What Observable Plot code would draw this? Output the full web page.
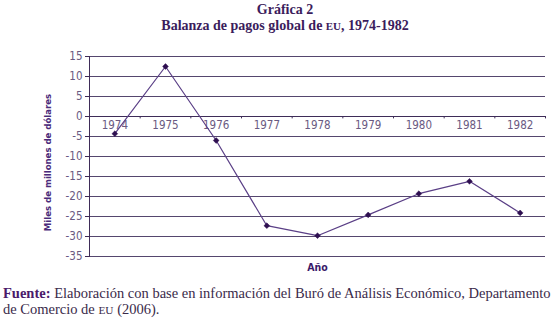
<!DOCTYPE html>
<html>
<head>
<meta charset="utf-8">
<script src="https://cdn.jsdelivr.net/npm/d3@7"></script>
<script src="https://cdn.jsdelivr.net/npm/@observablehq/plot@0.6"></script>
<style>
  html, body { margin: 0; padding: 0; background: #fff; }
  body { width: 557px; height: 318px; overflow: hidden; position: relative; }
  #title { position: absolute; left: 0; top: 2px; width: 570px; text-align: center;
    font-family: "Liberation Serif", "Times New Roman", serif; font-weight: bold;
    font-size: 14px; line-height: 15.5px; color: #3b1c5c; }
  #chart { position: absolute; left: 0; top: 40px; }
  #foot { position: absolute; left: 3px; top: 285px; width: 554px;
    font-family: "Liberation Serif", "Times New Roman", serif; font-size: 14.5px;
    line-height: 16px; color: #3a2a4a; }
  #foot b { color: #4a1a6a; }
  .sc { font-size: 0.78em; }
</style>
</head>
<body>
<div id="title">Gráfica 2<br>Balanza de pagos global de <span class="sc">EU</span>, 1974-1982</div>
<div id="chart"></div>
<div id="foot"><b>Fuente:</b> Elaboración con base en información del Buró de Análisis Económico, Departamento<br>de Comercio de <span class="sc">EU</span> (2006).</div>
<script>
const years = [1974, 1975, 1976, 1977, 1978, 1979, 1980, 1981, 1982];
const balance = [-4.3, 12.5, -6.0, -27.3, -29.8, -24.6, -19.3, -16.2, -24.1];
const yTicks = [15, 10, 5, 0, -5, -10, -15, -20, -25, -30, -35];
const yLabel = "Miles de millones de dólares";
const xLabel = "Año";

const data = years.map((y, i) => ({year: y, value: balance[i]}));
const bounds = years.map(y => y - 0.5).concat([years[years.length - 1] + 0.5]);

const narrow = "'Liberation Sans Narrow', 'DejaVu Sans Condensed', sans-serif";

const chart = Plot.plot({
  width: 557,
  height: 240,
  marginLeft: 89,
  marginRight: 12,
  marginTop: 16,
  marginBottom: 24,
  style: {fontFamily: narrow, background: "transparent"},
  x: {type: "linear", domain: [bounds[0], bounds[bounds.length - 1]], axis: null},
  y: {domain: [-35, 15], axis: null},
  marks: [
    Plot.ruleY(yTicks, {stroke: "#55466e", strokeWidth: 1}),
    Plot.ruleY([0], {stroke: "#3e2c58", strokeWidth: 1}),
    Plot.frame({anchor: "left", stroke: "#3e2c58"}),
    Plot.ruleX(bounds, {x: d => d, y1: 0, y2: -0.6, stroke: "#3e2c58"}),
    Plot.axisY({ticks: yTicks, tickSize: 4, tickPadding: 3, fontSize: 11.5,
      color: "#6a5a82", stroke: "#3e2c58", label: null, tickFormat: d => d}),
    Plot.text(years, {x: d => d, y: 0, text: d => String(d), lineAnchor: "top", dy: 4,
      fontSize: 11.5, fill: "#6a5a82"}),
    Plot.line(data, {x: "year", y: "value", stroke: "#5a3f86", strokeWidth: 1.2}),
    Plot.dot(data, {x: "year", y: "value", symbol: "diamond2", r: 2.6, fill: "#2e0f50", stroke: "#2e0f50", strokeWidth: 0.5}),
    Plot.text([yLabel], {frameAnchor: "left", textAnchor: "middle", rotate: -90, dx: -42, dy: 6, fontSize: 9.5,
      fontWeight: "bold", fill: "#4a2a7a"}),
    Plot.text([xLabel], {frameAnchor: "bottom", lineAnchor: "bottom", dx: 0, dy: 14,
      fontSize: 10.5, fontWeight: "bold", fill: "#3a1a6a"})
  ]
});
document.getElementById("chart").appendChild(chart);
</script>
</body>
</html>
